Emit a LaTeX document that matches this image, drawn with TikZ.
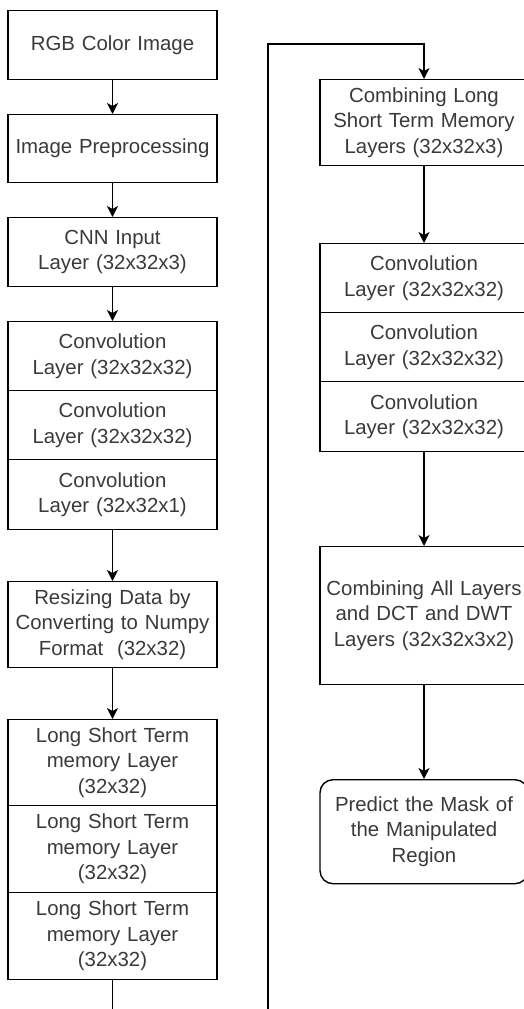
\documentclass[tikz,border=0pt]{standalone}
\usepackage{fontspec}
\setmainfont{Liberation Sans}
\usetikzlibrary{arrows.meta}
\definecolor{txt}{HTML}{3A3A3A}
\tikzset{
  box/.style={draw=black, line width=1.4pt, minimum width=209pt, text width=205pt,
    align=center, inner sep=0pt, anchor=north,
    font=\fontsize{20.4}{25.5}\selectfont, text=txt},
  rbox/.style={box, minimum width=208pt},
  arr/.style={draw=black, line width=1.4pt, -{Stealth[length=11pt,width=11pt,inset=3pt]}}
}
\begin{document}
\begin{tikzpicture}[x=1pt,y=-1pt]
\useasboundingbox (0,0) rectangle (524,1009);
\fill[white] (0,0) rectangle (524,1009);
\clip (0,0) rectangle (524,1009);
% left column
\node[box, minimum height=69pt] (rgb) at (112.5,10) {RGB Color Image};
\node[box, minimum height=68pt] (pre) at (112.5,114) {Image Preprocessing};
\node[box, minimum height=69pt] (cnn) at (112.5,217) {CNN Input\\Layer (32x32x3)};
\node[box, minimum height=69pt] (conva) at (112.5,321) {Convolution\\Layer (32x32x32)};
\node[box, minimum height=69pt] (convb) at (112.5,390) {Convolution\\Layer (32x32x32)};
\node[box, minimum height=70pt] (convc) at (112.5,459) {Convolution\\Layer (32x32x1)};
\node[box, minimum height=86pt] (resize) at (112.5,581) {Resizing Data by\\Converting to Numpy\\Format\ \ (32x32)};
\node[box, minimum height=86pt] (lstma) at (112.5,719) {Long Short Term\\memory Layer\\(32x32)};
\node[box, minimum height=87pt] (lstmb) at (112.5,805) {Long Short Term\\memory Layer\\(32x32)};
\node[box, minimum height=87pt] (lstmc) at (112.5,892) {Long Short Term\\memory Layer\\(32x32)};
% right column
\node[rbox, minimum height=86pt] (comb) at (424,79) {Combining Long\\Short Term Memory\\Layers (32x32x3)};
\node[rbox, minimum height=69pt] (rconva) at (424,243) {Convolution\\Layer (32x32x32)};
\node[rbox, minimum height=69pt] (rconvb) at (424,312) {Convolution\\Layer (32x32x32)};
\node[rbox, minimum height=70pt] (rconvc) at (424,381) {Convolution\\Layer (32x32x32)};
\node[rbox, minimum height=138pt] (all) at (424,546) {Combining All Layers\\and DCT and DWT\\Layers (32x32x3x2)};
\node[rbox, minimum height=104pt, rounded corners=13pt] (pred) at (424,779) {Predict the Mask of\\the Manipulated\\Region};
% connectors
\draw[arr] (rgb.south) -- (pre.north);
\draw[arr] (pre.south) -- (cnn.north);
\draw[arr] (cnn.south) -- (conva.north);
\draw[arr] (convc.south) -- (resize.north);
\draw[arr] (resize.south) -- (lstma.north);
\coordinate (loopa) at (112.5,1040);
\coordinate (loopb) at (268,1040);
\coordinate (loopc) at (268,44);
\coordinate (loopd) at (424,44);
\draw[arr] (lstmc.south) -- (loopa) -- (loopb) -- (loopc) -- (loopd) -- (comb.north);
\draw[arr] (comb.south) -- (rconva.north);
\draw[arr] (rconvc.south) -- (all.north);
\draw[arr] (all.south) -- (pred.north);
\end{tikzpicture}
\end{document}
